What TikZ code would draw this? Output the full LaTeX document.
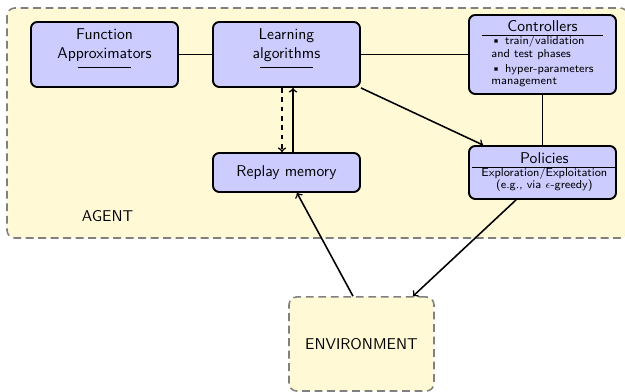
\documentclass[tikz,border=0pt]{standalone}
\usetikzlibrary{calc}
\definecolor{boxblue}{RGB}{204,204,255}
\definecolor{agentyellow}{RGB}{255,249,214}
\definecolor{dashgray}{RGB}{128,128,128}
\begin{document}
\begin{tikzpicture}[x=0.64pt,y=-0.64pt, font=\sffamily,
  box/.style={draw, very thick, rounded corners=4pt, fill=boxblue, minimum width=94.08pt, inner sep=0pt},
  small/.style={font=\sffamily\fontsize{7.4}{8.1}\selectfont},
  link/.style={line width=1pt},
  arr/.style={line width=1pt,->},
  region/.style={draw=dashgray, line width=1pt, dash pattern=on 5pt off 3pt, fill=agentyellow, rounded corners=5pt}]
\useasboundingbox (0,0) rectangle (625,392);
\path[region] (7,8) rectangle (628,238);
\node (agentlbl) at (107.5,216) {AGENT};
\node[region, minimum width=92.8pt, minimum height=60.2pt] (env) at (361.5,344) {ENVIRONMENT};

\node[box, minimum height=41.6pt] (fa) at (104.5,54.5)
  {\begin{tabular}{@{}c@{}}Function\\Approximators\\[-6pt]\rule{34.5pt}{0.5pt}\rule[-9.6pt]{0pt}{9.6pt}\end{tabular}};
\node[box, minimum height=41.6pt] (la) at (286.5,54.5)
  {\begin{tabular}{@{}c@{}}Learning\\algorithms\\[-6pt]\rule{34.5pt}{0.5pt}\rule[-9.6pt]{0pt}{9.6pt}\end{tabular}};
\node[box, minimum height=24.96pt] (rm) at (286.5,172.5) {Replay memory};
\node[box, small, minimum height=50.56pt] (ctrl) at (542.5,54.5)
  {\begin{tabular}{l}\multicolumn{1}{c}{\normalsize Controllers}\\\hline
   \textbullet{} train/validation\\
   and test phases\\[1.5pt]
   \textbullet{} hyper-parameters\\
   management\end{tabular}};
\node[box, small, minimum height=33.92pt] (pol) at (542.5,172.5)
  {\makebox[94.08pt][l]{\hspace*{2pt}\begin{tabular}{c}\normalsize Policies\\\hline
   Exploration/Exploitation\\
   (e.g., via $\epsilon$-greedy)\end{tabular}}};

\draw[link] (fa) -- (la);
\draw[link] (la) -- (ctrl);
\draw[link] (ctrl) -- (pol);
\draw[arr] (la.south east) -- ($(pol.north west)+(15,0)$);
\draw[arr, dashed] ($(la.south)+(-4.5,0)$) -- ($(rm.north)+(-4.5,0)$);
\draw[arr] ($(rm.north)+(6.5,0)$) -- ($(la.south)+(6.5,0)$);
\draw[arr] ($(env.north)+(-8.5,0)$) -- ($(rm.south)+(10.5,0)$);
\draw[arr] ($(pol.south)+(-26.5,0)$) -- ($(env.north)+(51.5,0)$);
\end{tikzpicture}
\end{document}
